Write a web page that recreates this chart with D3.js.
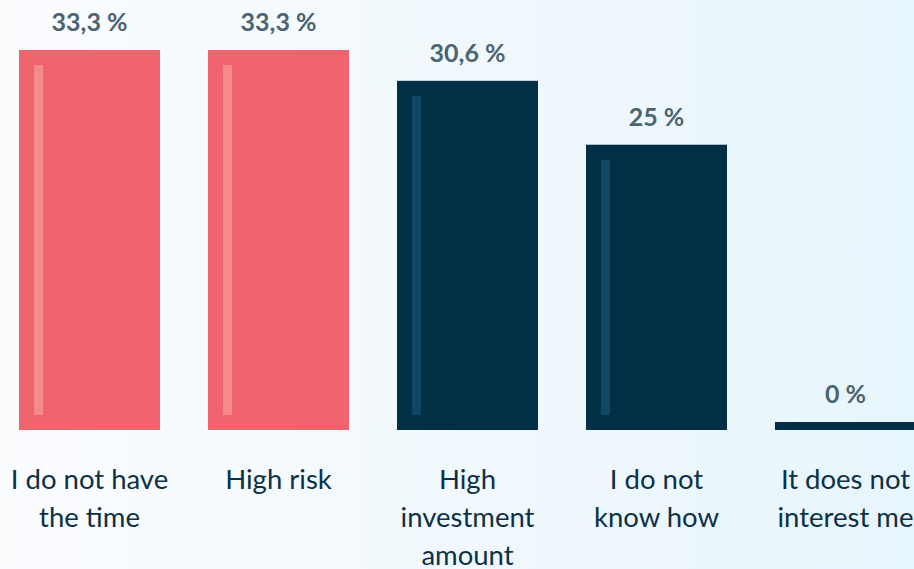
<!DOCTYPE html>
<html>
<head>
<meta charset="utf-8">
<script src="https://cdn.jsdelivr.net/npm/d3@7"></script>
<style>
  html, body { margin: 0; padding: 0; overflow: hidden; }
  svg { display: block; }
</style>
</head>
<body>
<div id="chart"></div>
<script>
// Data
const categories = [
  ['I do not have', 'the time'],
  ['High risk'],
  ['High', 'investment', 'amount'],
  ['I do not', 'know how'],
  ['It does not', 'interest me'],
];
const values = [33.3, 33.3, 30.6, 25, 0];
const valueLabels = ['33,3 %', '33,3 %', '30,6 %', '25 %', '0 %'];
const highlighted = [true, true, false, false, false];

const width = 914;
const height = 569;

const svg = d3.select('#chart').append('svg')
  .attr('width', width)
  .attr('height', height);

// Background gradient
const grad = svg.append('defs').append('linearGradient')
  .attr('id', 'bg')
  .attr('x1', '0%').attr('x2', '100%')
  .attr('y1', '0%').attr('y2', '0%');
grad.append('stop').attr('offset', '0%').attr('stop-color', '#fbfcfe');
grad.append('stop').attr('offset', '100%').attr('stop-color', '#e7f5fc');

svg.append('rect')
  .attr('width', width)
  .attr('height', height)
  .attr('fill', 'url(#bg)');

// Scales
const x = d3.scaleBand()
  .domain(d3.range(categories.length))
  .range([19, 916])
  .paddingInner(0.254)
  .paddingOuter(0);

const y = d3.scaleLinear()
  .domain([0, 33.3])
  .range([430, 50]);

const minH = 8;
const barTop = (d) => Math.min(y(d), y(0) - minH);

const g = svg.append('g');

// Bars
g.selectAll('rect.bar')
  .data(values)
  .join('rect')
    .attr('class', 'bar')
    .attr('x', (d, i) => x(i))
    .attr('y', (d) => barTop(d))
    .attr('width', x.bandwidth())
    .attr('height', (d) => y(0) - barTop(d))
    .attr('fill', (d, i) => highlighted[i] ? '#f0656d' : '#002f46');

// Inner light strip
g.selectAll('rect.strip')
  .data(values.filter((d) => d > 0))
  .join('rect')
    .attr('class', 'strip')
    .attr('x', (d, i) => x(i) + 15)
    .attr('y', (d) => y(d) + 15)
    .attr('width', 9)
    .attr('height', (d) => y(0) - y(d) - 30)
    .attr('fill', (d, i) => highlighted[i] ? '#f48a8b' : '#0f4764');

// Value labels
g.selectAll('text.value')
  .data(values)
  .join('text')
    .attr('class', 'value')
    .attr('x', (d, i) => x(i) + x.bandwidth() / 2)
    .attr('y', (d) => barTop(d) - 19)
    .attr('text-anchor', 'middle')
    .attr('font-family', 'Lato, sans-serif')
    .attr('font-weight', 700)
    .attr('font-size', 25)
    .attr('fill', '#4a6471')
    .text((d, i) => valueLabels[i]);

// Category labels
const cat = g.selectAll('text.cat')
  .data(categories)
  .join('text')
    .attr('class', 'cat')
    .attr('text-anchor', 'middle')
    .attr('font-family', 'Lato, sans-serif')
    .attr('font-size', 27.5)
    .attr('fill', '#0b3148');

cat.selectAll('tspan')
  .data((d, i) => d.map((line) => ({ line, i })))
  .join('tspan')
    .attr('x', (d) => x(d.i) + x.bandwidth() / 2)
    .attr('y', (d, j) => 489 + j * 38)
    .text((d) => d.line);
</script>
</body>
</html>
